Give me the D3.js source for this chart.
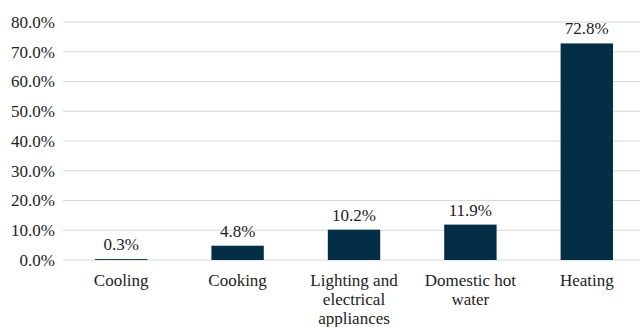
<!DOCTYPE html>
<html>
<head>
<meta charset="utf-8">
<script src="https://cdn.jsdelivr.net/npm/d3@7"></script>
</head>
<body style="margin:0; background:#fff">
<div id="viz"></div>
<script>
const categories = ['Cooling', 'Cooking', 'Lighting and electrical appliances', 'Domestic hot water', 'Heating'];
const shares = [0.3, 4.8, 10.2, 11.9, 72.8];
const yTicks = [0, 10, 20, 30, 40, 50, 60, 70, 80];

const width = 640;
const height = 327;
const margin = {top: 22, right: 0, bottom: 67, left: 63};
const FONT = '"Times New Roman", Tinos, "Liberation Serif", serif';

const svg = d3.select('#viz')
  .append('svg')
  .attr('width', width)
  .attr('height', height);

const x = d3.scaleBand()
  .domain(categories)
  .range([margin.left, width - margin.right + 5])
  .paddingInner(0.55)
  .paddingOuter(0.275);

const y = d3.scaleLinear()
  .domain([0, 80])
  .range([height - margin.bottom, margin.top]);

// gridlines
svg.append('g')
  .selectAll('line')
  .data(yTicks)
  .join('line')
  .attr('x1', margin.left)
  .attr('x2', width)
  .attr('y1', d => y(d))
  .attr('y2', d => y(d))
  .attr('stroke', '#d9d9d9')
  .attr('stroke-width', 1);

// y labels
svg.append('g')
  .selectAll('text')
  .data(yTicks)
  .join('text')
  .attr('x', 55)
  .attr('y', d => y(d))
  .attr('dy', '0.35em')
  .attr('text-anchor', 'end')
  .attr('fill', '#222')
  .style('font-family', FONT)
  .style('font-size', '17px')
  .text(d => d.toFixed(1) + '%');

// bars
svg.append('g')
  .selectAll('rect')
  .data(shares)
  .join('rect')
  .attr('x', (d, i) => x(categories[i]))
  .attr('width', x.bandwidth())
  .attr('y', d => y(d))
  .attr('height', d => y(0) - y(d))
  .attr('fill', '#032e45');

// value labels
svg.append('g')
  .selectAll('text')
  .data(shares)
  .join('text')
  .attr('x', (d, i) => x(categories[i]) + x.bandwidth() / 2)
  .attr('y', d => y(d) - 9)
  .attr('text-anchor', 'middle')
  .attr('fill', '#222')
  .style('font-family', FONT)
  .style('font-size', '17px')
  .text(d => d.toFixed(1) + '%');

// category labels, wrapped
const wrapLines = {
  'Lighting and electrical appliances': ['Lighting and', 'electrical', 'appliances'],
  'Domestic hot water': ['Domestic hot', 'water']
};

const catG = svg.append('g');
categories.forEach(c => {
  const lines = wrapLines[c] || [c];
  const t = catG.append('text')
    .attr('text-anchor', 'middle')
    .attr('fill', '#222')
    .style('font-family', FONT)
    .style('font-size', '17px');
  lines.forEach((ln, j) => {
    t.append('tspan')
      .attr('x', x(c) + x.bandwidth() / 2)
      .attr('y', y(0) + 26 + j * 19)
      .text(ln);
  });
});
</script>
</body>
</html>
